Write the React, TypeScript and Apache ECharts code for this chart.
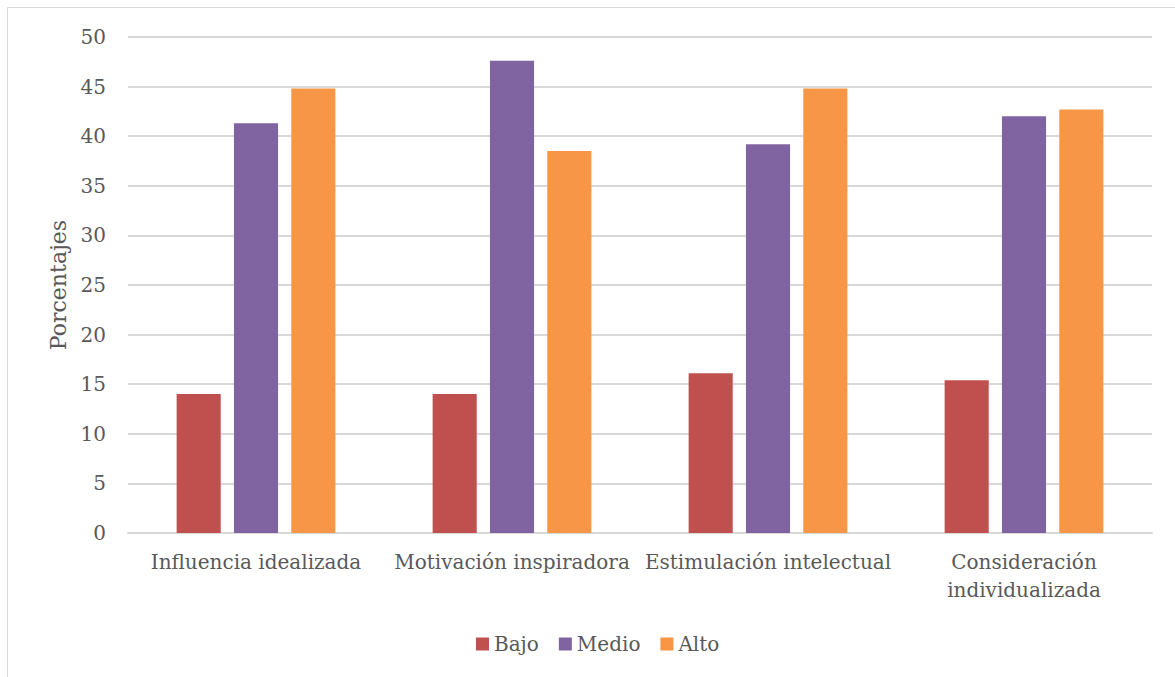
import React, { useEffect, useRef } from "react";
import * as echarts from "echarts";

const categories = [
  "Influencia idealizada",
  "Motivación inspiradora",
  "Estimulación intelectual",
  "Consideración\nindividualizada",
];
const bajo = [14.0, 14.0, 16.1, 15.4];
const medio = [41.3, 47.6, 39.2, 42.0];
const alto = [44.8, 38.5, 44.8, 42.7];
const seriesNames = ["Bajo", "Medio", "Alto"];
const colors = ["#C0504D", "#8064A2", "#F79646"];

const FONT = "DejaVu Serif";

export default function App() {
  const ref = useRef<HTMLDivElement>(null);
  useEffect(() => {
    if (!ref.current) return;
    const chart = echarts.init(ref.current, undefined, { renderer: "svg" });
    const data = [bajo, medio, alto];
    chart.setOption({
      animation: false,
      backgroundColor: "#ffffff",
      textStyle: { fontFamily: FONT },
      graphic: [
        {
          type: "rect",
          shape: { x: 7.5, y: 7.5, width: 1200, height: 700 },
          style: { fill: "none", stroke: "#D9D9D9", lineWidth: 1 },
          silent: true,
        },
      ],
      grid: { left: 128, right: 23, top: 37, bottom: 144 },
      legend: {
        bottom: 18,
        left: 471,
        itemWidth: 13,
        itemHeight: 13,
        itemGap: 20,
        icon: "rect",
        textStyle: { fontFamily: FONT, fontSize: 20, color: "#595959" },
        data: seriesNames,
      },
      xAxis: {
        type: "category",
        data: categories,
        axisLine: { lineStyle: { color: "#D9D9D9", width: 2 } },
        axisTick: { show: false },
        axisLabel: {
          interval: 0,
          margin: 15,
          fontFamily: FONT,
          fontSize: 20,
          lineHeight: 28,
          color: "#595959",
        },
      },
      yAxis: {
        type: "value",
        min: 0,
        max: 50,
        interval: 5,
        name: "Porcentajes",
        nameLocation: "middle",
        nameGap: 58,
        nameRotate: 90,
        nameTextStyle: { fontFamily: FONT, fontSize: 22, color: "#595959" },
        axisLine: { show: false },
        axisTick: { show: false },
        axisLabel: {
          margin: 22,
          fontFamily: FONT,
          fontSize: 20,
          color: "#595959",
        },
        splitLine: { lineStyle: { color: "#D9D9D9", width: 2 } },
      },
      series: seriesNames.map((name, i) => ({
        name,
        type: "bar",
        data: data[i],
        barGap: "30%",
        barCategoryGap: "38%",
        itemStyle: { color: colors[i] },
      })),
    });
    return () => chart.dispose();
  }, []);
  return (
    <div
      ref={ref}
      style={{ position: "absolute", left: 0, top: 0, width: 1175, height: 677 }}
    />
  );
}
